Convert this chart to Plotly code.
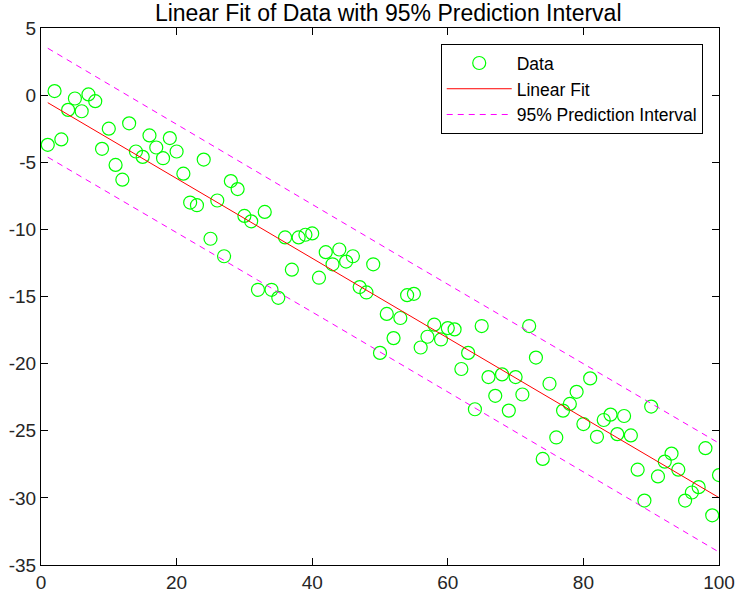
import numpy as np
import plotly.graph_objects as go

x_vals = list(range(1, 101))
y_vals = [
    -3.7, 0.3, -3.3, -1.1, -0.25, -1.2, 0.05, -0.45, -4.0, -2.5,
    -5.2, -6.3, -2.1, -4.2, -4.6, -3.0, -3.9, -4.7, -3.2, -4.2,
    -5.85, -8.0, -8.2, -4.8, -10.7, -7.85, -12.0, -6.4, -7.0, -9.0,
    -9.4, -14.5, -8.7, -14.5, -15.1, -10.6, -13.0, -10.6, -10.4, -10.3,
    -13.6, -11.7, -12.6, -11.5, -12.4, -12.0, -14.3, -14.7, -12.6, -19.2,
    -16.3, -18.1, -16.6, -14.9, -14.8, -18.8, -18.0, -17.1, -18.2, -17.35,
    -17.45, -20.4, -19.2, -23.4, -17.2, -21.0, -22.4, -20.8, -23.5, -21.0,
    -22.3, -17.2, -19.55, -27.1, -21.5, -25.5, -23.5, -23.0, -22.1, -24.5,
    -21.1, -25.45, -24.2, -23.8, -25.25, -23.9, -25.35, -27.9, -30.2, -23.2,
    -28.4, -27.3, -26.7, -27.9, -30.2, -29.6, -29.2, -26.3, -31.3, -28.3,
]
x_ticks = [0, 20, 40, 60, 80, 100]
y_ticks = [5, 0, -5, -10, -15, -20, -25, -30, -35]
y_ticktext = ["5", "0", "-5", "-10", "-15", "-20", "-25", "-30", "-35"]
t_crit = 1.9845  # t(0.975, 98)

x = np.array(x_vals, dtype=float)
y = np.array(y_vals, dtype=float)
n = len(x)
p = np.polyfit(x, y, 1)
yfit = np.polyval(p, x)
resid = y - yfit
s = np.sqrt(np.sum(resid**2) / (n - 2))
sxx = np.sum((x - x.mean())**2)
delta = t_crit * s * np.sqrt(1 + 1/n + (x - x.mean())**2 / sxx)

FONT = "Liberation Sans, Arial, Helvetica"

fig = go.Figure()
fig.add_trace(go.Scatter(
    x=x, y=y, mode="markers", name="Data",
    marker=dict(symbol="circle-open", size=13, color="#00FF00",
                line=dict(width=1.2, color="#00FF00")),
))
fig.add_trace(go.Scatter(
    x=x, y=yfit, mode="lines", name="Linear Fit",
    line=dict(color="#FF0000", width=1),
))
fig.add_trace(go.Scatter(
    x=x, y=yfit + delta, mode="lines", name="95% Prediction Interval",
    line=dict(color="#FF00FF", width=1, dash="6px,5px"),
))
fig.add_trace(go.Scatter(
    x=x, y=yfit - delta, mode="lines", name="95% Prediction Interval",
    line=dict(color="#FF00FF", width=1, dash="6px,5px"), showlegend=False,
))

axis_common = dict(
    showgrid=False, zeroline=False, showline=True, linecolor="black",
    linewidth=1, mirror="ticks", ticks="inside", ticklen=7,
    tickcolor="black", automargin=False,
    tickfont=dict(family=FONT, size=19, color="#262626"),
)
fig.update_layout(
    width=738, height=595,
    margin=dict(l=41, r=19, t=28, b=30),
    paper_bgcolor="white", plot_bgcolor="white",
    title=dict(text="Linear Fit of Data with 95% Prediction Interval",
               x=0.526, xanchor="center", y=0.978, yanchor="middle",
               font=dict(family=FONT, size=23, color="black")),
    xaxis=dict(range=[0, 100], tickvals=x_ticks, **axis_common),
    yaxis=dict(range=[-35, 5], tickvals=y_ticks, ticktext=y_ticktext, **axis_common),
    legend=dict(x=0.976, y=0.970, xanchor="right", yanchor="top",
                bordercolor="black", borderwidth=1, bgcolor="white",
                font=dict(family=FONT, size=17.5, color="black"),
                tracegroupgap=0, itemwidth=65),
    showlegend=True,
)
fig.write_html("out.html",
               config={"displayModeBar": False},
               post_script="document.body.style.margin='0';document.body.style.overflow='hidden';")
